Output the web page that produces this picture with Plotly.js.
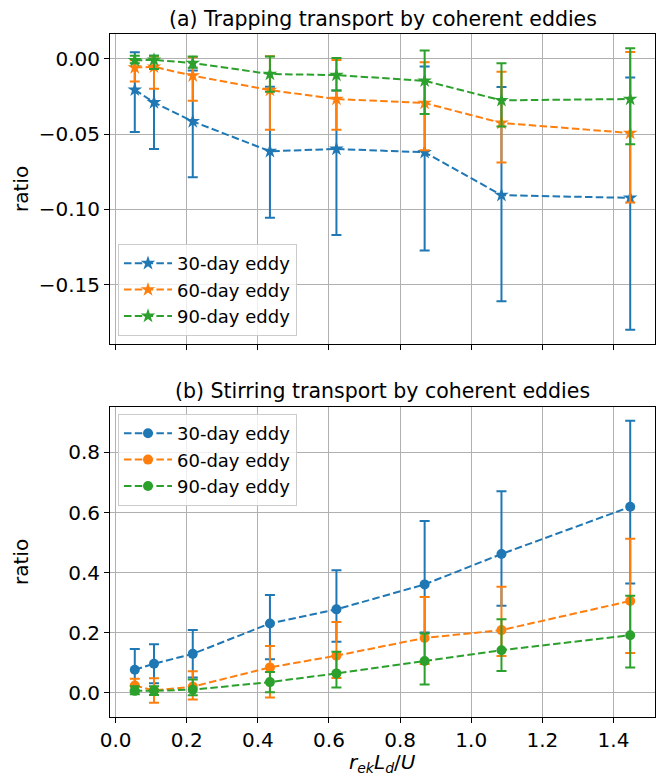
<!DOCTYPE html>
<html><head><meta charset="utf-8">
<script src="https://cdn.plot.ly/plotly-3.0.1.min.js"></script>
<style>html,body{margin:0;padding:0;background:#fff;}#chart{width:665px;height:783px;}</style>
</head><body><div id="chart"></div>
<script>
// x positions (r_ek L_d / U)
const xValues = [0.054, 0.108, 0.217, 0.434, 0.621, 0.869, 1.085, 1.447];
const seriesNames = ['30-day eddy', '60-day eddy', '90-day eddy'];

// (a) Trapping transport: centre, upper end, lower end of error bars
const trap30   = [-0.0206, -0.0290, -0.0416, -0.0614, -0.0599, -0.0621, -0.0906, -0.0924];
const trap30Hi = [ 0.0044,  0.0020, -0.0078, -0.0186, -0.0210, -0.0051, -0.0188, -0.0124];
const trap30Lo = [-0.0487, -0.0599, -0.0787, -0.1056, -0.1171, -0.1273, -0.1611, -0.1801];
const trap60   = [-0.0058, -0.0053, -0.0112, -0.0208, -0.0267, -0.0294, -0.0426, -0.0493];
const trap60Hi = [-0.0010,  0.0015,  0.0011,  0.0017, -0.0007, -0.0022, -0.0086,  0.0046];
const trap60Lo = [-0.0150, -0.0199, -0.0278, -0.0471, -0.0471, -0.0608, -0.0689, -0.0954];
const trap90   = [-0.0010, -0.0007, -0.0028, -0.0101, -0.0108, -0.0146, -0.0276, -0.0267];
const trap90Hi = [ 0.0020,  0.0020,  0.0015,  0.0015,  0.0006,  0.0055, -0.0029,  0.0071];
const trap90Lo = [-0.0030, -0.0068, -0.0060, -0.0219, -0.0210, -0.0367, -0.0449, -0.0568];

// (b) Stirring transport
const stir30   = [0.077, 0.097, 0.130, 0.231, 0.278, 0.361, 0.462, 0.619];
const stir30Hi = [0.146, 0.162, 0.209, 0.326, 0.408, 0.572, 0.671, 0.905];
const stir30Lo = [0.008, 0.032, 0.051, 0.112, 0.170, 0.201, 0.290, 0.364];
const stir60   = [0.025, 0.008, 0.021, 0.085, 0.124, 0.183, 0.209, 0.306];
const stir60Hi = [0.047, 0.049, 0.072, 0.156, 0.236, 0.319, 0.353, 0.513];
const stir60Lo = [0.004, -0.033, -0.022, -0.015, 0.050, 0.096, 0.123, 0.133];
const stir90   = [0.007, 0.007, 0.011, 0.036, 0.065, 0.106, 0.142, 0.192];
const stir90Hi = [0.022, 0.022, 0.045, 0.070, 0.137, 0.198, 0.245, 0.323];
const stir90Lo = [-0.004, -0.007, -0.008, 0.002, 0.018, 0.028, 0.073, 0.085];

const xTicks = [0.0, 0.2, 0.4, 0.6, 0.8, 1.0, 1.2, 1.4];
const trapTicks = [0.00, -0.05, -0.10, -0.15];
const stirTicks = [0.0, 0.2, 0.4, 0.6, 0.8];

const colors = ['#1f77b4', '#ff7f0e', '#2ca02c'];
const FONT = 'DejaVu Sans, Liberation Sans, sans-serif';

function mk(y, hi, lo, i, axis, symbol, size, legend) {
  return {
    x: xValues, y: y, type: 'scatter', mode: 'lines+markers',
    name: seriesNames[i], xaxis: axis[0], yaxis: axis[1], legend: legend,
    line: {color: colors[i], width: 2, dash: '7.5px,3.3px'},
    marker: {color: colors[i], symbol: symbol, size: size, line: {width: 0}},
    error_y: {type: 'data', symmetric: false,
      array: hi.map((v, k) => v - y[k]),
      arrayminus: lo.map((v, k) => y[k] - v),
      color: colors[i], thickness: 2, width: 5},
    hoverinfo: 'x+y'
  };
}

const data = [
  mk(trap30, trap30Hi, trap30Lo, 0, ['x', 'y'], 'star', 11, 'legend'),
  mk(trap60, trap60Hi, trap60Lo, 1, ['x', 'y'], 'star', 11, 'legend'),
  mk(trap90, trap90Hi, trap90Lo, 2, ['x', 'y'], 'star', 11, 'legend'),
  mk(stir30, stir30Hi, stir30Lo, 0, ['x2', 'y2'], 'circle', 10, 'legend2'),
  mk(stir60, stir60Hi, stir60Lo, 1, ['x2', 'y2'], 'circle', 10, 'legend2'),
  mk(stir90, stir90Hi, stir90Lo, 2, ['x2', 'y2'], 'circle', 10, 'legend2')
];

const W = 665, H = 783;
const xd = [110 / W, 655 / W];
const topDom = [(H - 344) / H, (H - 34) / H];
const botDom = [(H - 717) / H, (H - 407) / H];

function axisBase() {
  return {
    showline: true, mirror: true, linecolor: '#000', linewidth: 1,
    showgrid: true, gridcolor: '#b0b0b0', gridwidth: 1,
    ticks: 'outside', ticklen: 5, tickwidth: 1, tickcolor: '#000',
    zeroline: false, tickfont: {family: FONT, size: 20, color: '#000'}
  };
}

const legendStyle = {
  bgcolor: 'rgba(255,255,255,0.8)', bordercolor: '#cccccc', borderwidth: 1,
  font: {family: FONT, size: 18, color: '#000'}, xanchor: 'left', yanchor: 'top',
  itemwidth: 48, tracegroupgap: 0
};

const layout = {
  width: W, height: H, margin: {l: 0, r: 0, t: 0, b: 0},
  paper_bgcolor: '#fff', plot_bgcolor: '#fff', showlegend: true,
  font: {family: FONT, color: '#000'},
  xaxis: Object.assign(axisBase(), {domain: xd, anchor: 'y', range: [-0.0157, 1.5167],
    tickvals: xTicks, showticklabels: false}),
  yaxis: Object.assign(axisBase(), {domain: topDom, anchor: 'x', range: [-0.1895, 0.0165],
    tickvals: trapTicks, tickformat: '.2f'}),
  xaxis2: Object.assign(axisBase(), {domain: xd, anchor: 'y2', range: [-0.0157, 1.5167],
    tickvals: xTicks, tickformat: '.1f'}),
  yaxis2: Object.assign(axisBase(), {domain: botDom, anchor: 'x2', range: [-0.080, 0.951],
    tickvals: stirTicks, tickformat: '.1f'}),
  legend: Object.assign({}, legendStyle, {x: 118 / W, y: (H - 244) / H}),
  legend2: Object.assign({}, legendStyle, {x: 118 / W, y: (H - 414) / H}),
  annotations: [
    {text: '(a) Trapping transport by coherent eddies', xref: 'paper', yref: 'paper',
     x: 382.5 / W, y: (H - 19) / H, showarrow: false, xanchor: 'center', yanchor: 'middle',
     font: {family: FONT, size: 20.5, color: '#000'}},
    {text: '(b) Stirring transport by coherent eddies', xref: 'paper', yref: 'paper',
     x: 382.5 / W, y: (H - 391) / H, showarrow: false, xanchor: 'center', yanchor: 'middle',
     font: {family: FONT, size: 20.5, color: '#000'}},
    {text: 'ratio', xref: 'paper', yref: 'paper', x: 21 / W, y: (H - 189) / H,
     showarrow: false, textangle: -90, xanchor: 'center', yanchor: 'middle',
     font: {family: FONT, size: 20, color: '#000'}},
    {text: 'ratio', xref: 'paper', yref: 'paper', x: 21 / W, y: (H - 562) / H,
     showarrow: false, textangle: -90, xanchor: 'center', yanchor: 'middle',
     font: {family: FONT, size: 20, color: '#000'}},
    {text: '<i>r</i><sub><i>ek</i></sub><i>L</i><sub><i>d</i></sub>/<i>U</i>', xref: 'paper', yref: 'paper',
     x: 382.5 / W, y: (H - 763) / H, showarrow: false, xanchor: 'center', yanchor: 'middle',
     font: {family: FONT, size: 20, color: '#000'}}
  ]
};

Plotly.newPlot('chart', data, layout, {displayModeBar: false, staticPlot: true});
</script></body></html>
